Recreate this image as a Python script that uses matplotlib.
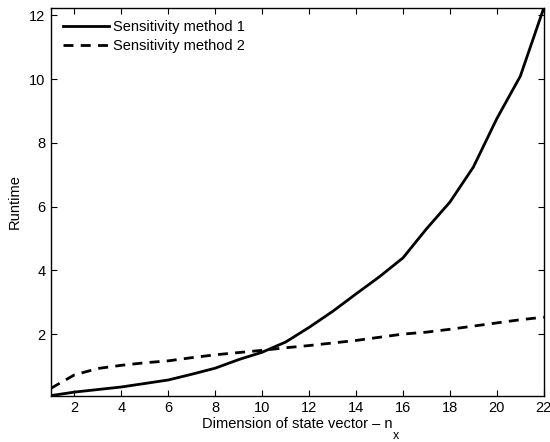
import matplotlib
matplotlib.use("Agg")
import matplotlib.pyplot as plt

plt.rcParams['font.family'] = ['Liberation Sans', 'DejaVu Sans']

# data
nx = list(range(1, 23))
method1 = [0.07, 0.18, 0.26, 0.34, 0.45, 0.56, 0.74, 0.93, 1.20, 1.43, 1.75, 2.21,
           2.71, 3.26, 3.80, 4.39, 5.30, 6.14, 7.24, 8.76, 10.09, 12.23]
method2 = [0.30, 0.72, 0.92, 1.02, 1.10, 1.16, 1.26, 1.35, 1.42, 1.49, 1.57, 1.64,
           1.72, 1.80, 1.90, 2.00, 2.06, 2.15, 2.25, 2.35, 2.45, 2.53]
xticks = list(range(2, 23, 2))
yticks = list(range(2, 13, 2))

fig = plt.figure(figsize=(5.5, 4.42), dpi=100)
ax = fig.add_axes([0.0927, 0.105, 0.896, 0.877])

ax.plot(nx, method1, color='black', lw=2.0, label='Sensitivity method 1')
ax.plot(nx, method2, color='black', lw=2.0, ls=(0, (3.6, 2.6)), label='Sensitivity method 2')

ax.set_xlim(1, 22)
ax.set_ylim(min(method1), max(method1))
ax.set_xticks(xticks)
ax.set_yticks(yticks)
ax.tick_params(direction='in', top=True, right=True, labelsize=10.5, length=4, width=0.8, pad=4)
for s in ax.spines.values():
    s.set_linewidth(1.0)

xl = ax.set_xlabel('Dimension of state vector \u2013 n', fontsize=10.5, labelpad=1)
ax.annotate('x', xy=(1, 0), xycoords=xl, xytext=(0.5, -4), textcoords='offset points',
            fontsize=9, ha='left', va='center')
ax.set_ylabel('Runtime', fontsize=10.5, labelpad=5)

ax.legend(loc='upper left', frameon=False, fontsize=10.5, handlelength=3.1,
          borderaxespad=0.45, labelspacing=0.3, handletextpad=0.3)

fig.savefig('out.png', dpi=100)
